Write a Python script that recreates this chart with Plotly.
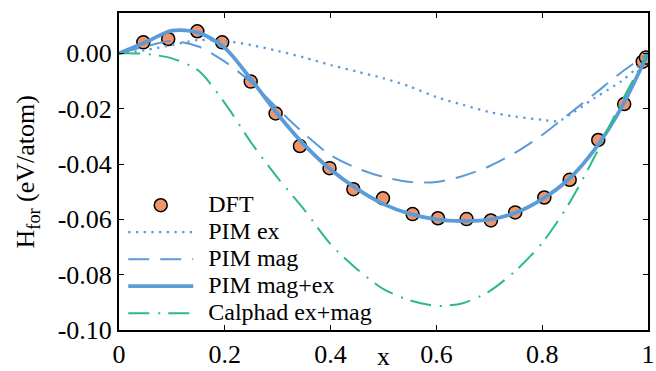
import plotly.graph_objects as go

# ---- data ----
dft_x = [0.046, 0.093, 0.148, 0.195, 0.249, 0.296, 0.342, 0.398, 0.443, 0.499,
         0.555, 0.603, 0.657, 0.703, 0.749, 0.804, 0.852, 0.906, 0.955, 0.990, 0.996]
dft_y = [0.0040, 0.0052, 0.0080, 0.0040, -0.0102, -0.0217, -0.0335, -0.0415, -0.0491, -0.0524,
         -0.0581, -0.0596, -0.0599, -0.0604, -0.0575, -0.0521, -0.0457, -0.0313, -0.0183, -0.0030, -0.0015]

curve_x = [0.0, 0.05, 0.1, 0.15, 0.2, 0.25, 0.3, 0.35, 0.4, 0.45, 0.5,
           0.55, 0.6, 0.65, 0.7, 0.75, 0.8, 0.85, 0.9, 0.95, 1.0]

pim_ex_x = [0.0, 0.05, 0.1, 0.15, 0.2, 0.25, 0.3, 0.35, 0.4, 0.45, 0.5,
            0.55, 0.6, 0.65, 0.7, 0.75, 0.8, 0.83, 0.86, 0.9, 0.95, 0.98, 1.0]
pim_ex_y = [0.0, 0.0012, 0.0030, 0.0048, 0.0045, 0.0030, 0.0009, -0.0015, -0.0042, -0.0066, -0.0090,
            -0.0120, -0.0158, -0.0186, -0.0212, -0.0229, -0.0240, -0.0245, -0.0212, -0.0160, -0.0100, -0.0050, 0.0]

pim_mag_y = [0.0, 0.0025, 0.0045, 0.0025, -0.0030, -0.0105, -0.0200, -0.0290, -0.0368, -0.0415, -0.0447,
             -0.0465, -0.0465, -0.0443, -0.0408, -0.0358, -0.0295, -0.0220, -0.0145, -0.0068, 0.0]

pim_magex_y = [0.0, 0.0040, 0.0082, 0.0075, 0.0020, -0.0095, -0.0220, -0.0330, -0.0420, -0.0490, -0.0545,
               -0.0580, -0.0600, -0.0606, -0.0601, -0.0576, -0.0527, -0.0455, -0.0345, -0.0195, 0.0]

calphad_y = [0.0, -0.0002, -0.0018, -0.0062, -0.0180, -0.0323, -0.0450, -0.0565, -0.0690, -0.0780, -0.0852,
             -0.0893, -0.0913, -0.0903, -0.0860, -0.0785, -0.0685, -0.0545, -0.0370, -0.0175, 0.0]

names = ["DFT", "PIM ex", "PIM mag", "PIM mag+ex", "Calphad ex+mag"]

x_tickvals = [0, 0.2, 0.4, 0.6, 0.8, 1.0]
x_ticktext = ["0", "0.2", "0.4", "0.6", "0.8", "1"]
y_tickvals = [0.0, -0.02, -0.04, -0.06, -0.08, -0.10]
y_ticktext = ["0.00", "-0.02", "-0.04", "-0.06", "-0.08", "-0.10"]

BLUE = "#5B9BD8"
ORANGE = "#F0956A"
GREEN = "#2DB98C"
FONT = "Liberation Serif, Times New Roman, Times, serif"
FS = 26
LEG_FS = 24


def lbl(s):
    return '<span style="font-size:%dpx">\u2004\u200a%s</span>' % (LEG_FS, s)


fig = go.Figure()
fig.add_trace(go.Scatter(x=dft_x, y=dft_y, mode="markers", name=lbl(names[0]),
                         marker=dict(size=13, color=ORANGE, line=dict(color="black", width=1.5))))
fig.add_trace(go.Scatter(x=pim_ex_x, y=pim_ex_y, mode="lines", name=lbl(names[1]),
                         line=dict(color=BLUE, width=2.3, dash="2.3px,5.4px", shape="spline", smoothing=0.8)))
fig.add_trace(go.Scatter(x=curve_x, y=pim_mag_y, mode="lines", name=lbl(names[2]),
                         line=dict(color=BLUE, width=2, dash="21px,11px", shape="spline", smoothing=0.8)))
fig.add_trace(go.Scatter(x=curve_x, y=pim_magex_y, mode="lines", name=lbl(names[3]),
                         line=dict(color=BLUE, width=3.8, shape="spline", smoothing=0.8)))
fig.add_trace(go.Scatter(x=curve_x, y=calphad_y, mode="lines", name=lbl(names[4]),
                         line=dict(color=GREEN, width=2, dash="21px,9px,2px,8px", shape="spline", smoothing=0.8)))

axis_common = dict(showline=True, linecolor="black", linewidth=2, mirror="ticks",
                   ticks="inside", ticklen=5, tickwidth=1, tickcolor="black",
                   showgrid=False, zeroline=False, tickmode="array",
                   tickfont=dict(family=FONT, size=FS, color="black"))

fig.update_xaxes(range=[0, 1], tickvals=x_tickvals, ticktext=x_ticktext, **axis_common)
fig.update_yaxes(range=[-0.10, 0.0146], tickvals=y_tickvals, ticktext=y_ticktext, **axis_common)

fig.add_annotation(text="x", xref="paper", yref="paper", x=0.5, y=-0.085,
                   xanchor="center", yanchor="middle", showarrow=False,
                   font=dict(family=FONT, size=FS, color="black"))
fig.add_annotation(text="H<sub>for</sub> (eV/atom)", xref="paper", yref="paper",
                   x=-0.174, y=0.5, xanchor="center", yanchor="middle", textangle=-90,
                   showarrow=False, font=dict(family=FONT, size=FS, color="black"))

fig.update_layout(
    width=656, height=371,
    margin=dict(l=119, r=8, t=13, b=41, autoexpand=False),
    plot_bgcolor="white", paper_bgcolor="white",
    font=dict(family=FONT, size=FS, color="black"),
    showlegend=True,
    legend=dict(x=0.008, y=0.452, xanchor="left", yanchor="top",
                bgcolor="rgba(0,0,0,0)", borderwidth=0,
                font=dict(family=FONT, size=18.46, color="black"),
                itemwidth=65, tracegroupgap=0),
)

fig.write_html("out.html")
